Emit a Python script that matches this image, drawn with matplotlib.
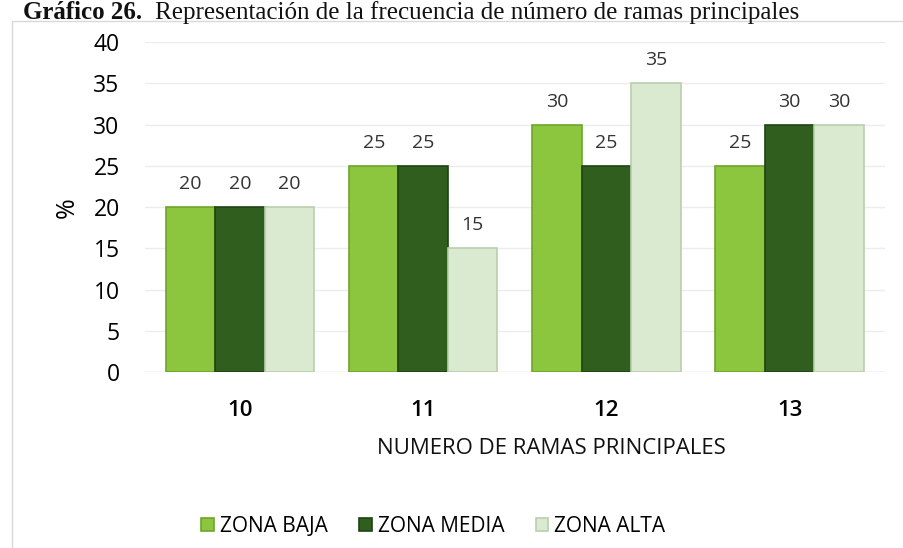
import numpy as np
import matplotlib.pyplot as plt
from matplotlib.patches import Rectangle

plt.rcParams['font.family'] = ['Open Sans', 'DejaVu Sans']

categories = ["10", "11", "12", "13"]
zona_baja = [20, 25, 30, 25]
zona_media = [20, 25, 25, 30]
zona_alta = [20, 15, 35, 30]
series_names = ["ZONA BAJA", "ZONA MEDIA", "ZONA ALTA"]
colors = ["#8cc63e", "#2f5e1e", "#d9ead0"]
edges = ["#6fa52a", "#1f4312", "#b9cfae"]

fig = plt.figure(figsize=(9.04, 5.48), dpi=100)
ax = fig.add_axes([0.160, 0.321, 0.819, 0.602])

# chart border (partly cropped page)
fig.patches.append(Rectangle((0.013, -0.01), 1.0, 0.972, transform=fig.transFigure,
                             fill=False, edgecolor="#d9d9d9", linewidth=1.0))

# caption at top of page
fig.text(0.025, 0.999, "Gráfico 26.", fontfamily="Liberation Serif", fontweight="bold",
         fontsize=18, va="top", ha="left", color="#111111")
fig.text(0.172, 0.999, "Representación de la frecuencia de número de ramas principales",
         fontfamily="Liberation Serif", fontsize=18, va="top", ha="left", color="#111111")

x = np.arange(len(categories))
w = 0.27
for i, (vals, name) in enumerate(zip([zona_baja, zona_media, zona_alta], series_names)):
    bars = ax.bar(x + (i - 1) * w, vals, w, color=colors[i], edgecolor=edges[i],
                  linewidth=1.2, label=name, zorder=3)
    for b, v in zip(bars, vals):
        ax.text(b.get_x() + b.get_width() / 2, v + 1.7, str(v), ha="center", va="bottom",
                fontsize=14, color="#333333")

ax.set_xlim(-0.52, 3.52)
ax.set_ylim(0, 40)
ax.set_yticks(range(0, 41, 5))
ax.set_xticks(x)
ax.set_xticklabels(categories, fontsize=16, fontweight="semibold")
ax.tick_params(axis="y", labelsize=16.5, length=0, pad=18)
ax.tick_params(axis="x", length=0, pad=20)
ax.grid(axis="y", color="#ececec", linewidth=1, zorder=0)
for s in ax.spines.values():
    s.set_visible(False)
ax.axhline(0, color="#d9d9d9", linewidth=1, zorder=2)

ax.set_ylabel("%", fontsize=18, labelpad=10)
ax.set_xlabel("NUMERO DE RAMAS PRINCIPALES", fontsize=16, labelpad=14, color="#111111")
ax.xaxis.set_label_coords(0.55, -0.20)

ax.legend(loc="upper center", bbox_to_anchor=(0.39, -0.38), ncol=3, frameon=False,
          fontsize=15, handlelength=0.6, handleheight=0.6, handletextpad=0.3,
          columnspacing=1.5)

plt.savefig("out.png", dpi=100)
